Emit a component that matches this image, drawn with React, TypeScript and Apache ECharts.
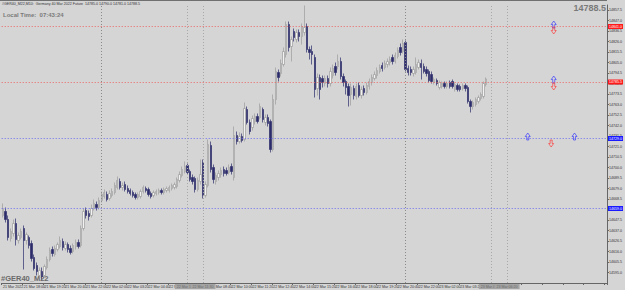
import React, { useEffect, useRef } from "react";
import * as echarts from "echarts";

// [open, close, low, high]
const candles: number[][] = [
  [14652, 14659, 14650, 14664], [14656, 14648, 14645, 14660], [14648, 14630, 14627, 14652], [14629, 14636, 14626, 14639],
  [14634, 14644, 14631, 14648], [14644, 14628, 14622, 14649], [14627, 14632, 14624, 14635], [14630, 14636, 14628, 14639],
  [14639, 14627, 14598, 14642], [14627, 14633, 14623, 14635], [14630, 14622, 14619, 14632], [14624, 14609, 14606, 14627],
  [14610, 14599, 14597, 14613], [14602, 14596, 14592, 14605], [14592, 14597, 14589, 14600], [14596, 14591, 14588, 14600],
  [14592, 14601, 14590, 14603], [14600, 14608, 14598, 14611], [14608, 14617, 14606, 14620], [14618, 14614, 14611, 14621],
  [14613, 14619, 14611, 14622], [14618, 14623, 14616, 14625], [14621, 14627, 14619, 14631], [14626, 14620, 14617, 14629],
  [14619, 14623, 14617, 14626], [14623, 14618, 14615, 14625], [14619, 14615, 14613, 14622], [14616, 14622, 14614, 14624],
  [14621, 14625, 14618, 14628], [14625, 14621, 14619, 14628], [14622, 14639, 14620, 14642], [14639, 14656, 14637, 14659],
  [14657, 14652, 14649, 14660], [14654, 14651, 14647, 14657], [14652, 14659, 14650, 14663], [14659, 14664, 14657, 14668],
  [14663, 14660, 14657, 14666], [14660, 14667, 14658, 14670], [14667, 14673, 14665, 14676], [14671, 14675, 14669, 14678],
  [14673, 14668, 14666, 14676], [14669, 14674, 14667, 14677], [14672, 14676, 14670, 14679], [14675, 14682, 14673, 14685],
  [14680, 14687, 14678, 14691], [14686, 14680, 14678, 14689], [14680, 14682, 14677, 14685], [14683, 14678, 14676, 14686],
  [14679, 14676, 14674, 14682], [14677, 14674, 14672, 14679], [14675, 14672, 14670, 14677], [14673, 14670, 14668, 14675],
  [14670, 14673, 14668, 14675], [14671, 14676, 14669, 14678], [14676, 14680, 14674, 14682], [14679, 14677, 14675, 14681],
  [14678, 14673, 14671, 14680], [14674, 14671, 14669, 14676], [14672, 14675, 14670, 14677], [14674, 14676, 14672, 14678],
  [14675, 14677, 14673, 14679], [14677, 14675, 14673, 14679], [14675, 14678, 14673, 14680], [14677, 14679, 14675, 14681],
  [14677, 14680, 14675, 14682], [14679, 14682, 14677, 14684], [14680, 14683, 14678, 14685], [14681, 14688, 14679, 14690],
  [14687, 14693, 14685, 14696], [14692, 14698, 14690, 14701], [14696, 14701, 14694, 14706], [14702, 14695, 14693, 14704],
  [14696, 14688, 14686, 14698], [14690, 14686, 14683, 14693], [14689, 14678, 14675, 14691], [14678, 14687, 14676, 14690],
  [14686, 14693, 14683, 14708], [14705, 14672, 14669, 14708], [14672, 14683, 14670, 14686], [14682, 14723, 14680, 14728],
  [14722, 14698, 14695, 14726], [14700, 14688, 14684, 14703], [14686, 14692, 14683, 14695], [14690, 14694, 14687, 14697],
  [14693, 14697, 14690, 14700], [14698, 14694, 14691, 14701], [14697, 14694, 14692, 14700], [14695, 14700, 14693, 14703],
  [14701, 14696, 14693, 14704], [14690, 14732, 14687, 14741], [14732, 14726, 14723, 14736], [14726, 14731, 14724, 14735],
  [14731, 14727, 14725, 14734], [14728, 14759, 14726, 14765], [14758, 14745, 14743, 14761], [14745, 14736, 14733, 14748],
  [14740, 14749, 14737, 14752], [14746, 14751, 14743, 14754], [14751, 14746, 14744, 14754], [14750, 14761, 14748, 14764],
  [14758, 14748, 14745, 14760], [14745, 14750, 14742, 14753], [14750, 14744, 14741, 14753], [14746, 14718, 14715, 14748],
  [14718, 14768, 14716, 14773], [14768, 14796, 14763, 14800], [14795, 14790, 14786, 14798], [14794, 14804, 14791, 14808],
  [14803, 14816, 14801, 14820], [14813, 14843, 14810, 14846], [14843, 14820, 14816, 14846], [14821, 14828, 14806, 14831],
  [14836, 14830, 14826, 14839], [14828, 14835, 14825, 14838], [14835, 14831, 14826, 14838], [14831, 14841, 14823, 14844],
  [14835, 14840, 14832, 14862], [14841, 14818, 14815, 14844], [14818, 14815, 14808, 14821], [14816, 14813, 14803, 14822],
  [14810, 14778, 14770, 14813], [14779, 14790, 14772, 14794], [14790, 14778, 14768, 14793], [14789, 14785, 14780, 14792],
  [14784, 14789, 14781, 14792], [14789, 14784, 14780, 14792], [14784, 14796, 14781, 14800], [14792, 14799, 14789, 14803],
  [14801, 14795, 14792, 14805], [14801, 14806, 14798, 14813], [14806, 14791, 14788, 14810], [14791, 14785, 14781, 14794],
  [14786, 14780, 14773, 14788], [14781, 14772, 14761, 14784], [14773, 14780, 14762, 14784], [14779, 14772, 14768, 14782],
  [14771, 14781, 14768, 14784], [14782, 14772, 14770, 14785], [14772, 14778, 14769, 14781], [14779, 14775, 14772, 14782],
  [14775, 14782, 14773, 14785], [14781, 14786, 14778, 14789], [14785, 14790, 14782, 14793], [14789, 14793, 14787, 14796],
  [14792, 14797, 14789, 14800], [14796, 14800, 14794, 14803], [14802, 14799, 14796, 14805], [14800, 14804, 14798, 14807],
  [14803, 14806, 14800, 14809], [14805, 14808, 14802, 14811], [14810, 14806, 14803, 14813], [14806, 14812, 14804, 14815],
  [14811, 14817, 14809, 14820], [14820, 14815, 14812, 14824], [14816, 14824, 14814, 14828], [14825, 14798, 14796, 14827],
  [14799, 14795, 14792, 14802], [14798, 14795, 14792, 14801], [14794, 14798, 14791, 14801], [14795, 14803, 14793, 14810],
  [14800, 14805, 14798, 14808], [14804, 14800, 14788, 14808], [14801, 14796, 14794, 14804], [14798, 14794, 14791, 14801],
  [14796, 14787, 14785, 14798], [14793, 14786, 14784, 14796], [14785, 14788, 14783, 14790], [14787, 14784, 14782, 14789],
  [14780, 14785, 14778, 14787], [14781, 14784, 14779, 14786], [14784, 14781, 14779, 14786], [14781, 14784, 14779, 14786],
  [14785, 14781, 14779, 14787], [14786, 14781, 14779, 14788], [14778, 14783, 14776, 14785], [14782, 14778, 14776, 14784],
  [14781, 14778, 14776, 14783], [14779, 14782, 14777, 14784], [14782, 14779, 14776, 14784], [14780, 14766, 14764, 14782],
  [14766, 14761, 14755, 14768], [14761, 14765, 14758, 14767], [14763, 14768, 14761, 14770], [14766, 14770, 14764, 14772],
  [14769, 14773, 14767, 14775], [14771, 14784, 14769, 14786], [14783, 14788.5, 14781, 14790],
];

const SLOT_COUNT = 233; // bar slots across the plot, including the empty right shift
const BARS_PER_LABEL = 8;
const timeLabels = [
  "21 Mar 2022", "21 Mar 18:00", "21 Mar 19:20", "21 Mar 20:40", "21 Mar 22:00", "22 Mar 02:00",
  "22 Mar 03:20", "22 Mar 04:40", "22 Mar 06:00", "22 Mar 07:20", "22 Mar 08:40", "22 Mar 10:00",
  "22 Mar 11:20", "22 Mar 12:40", "22 Mar 14:00", "22 Mar 15:20", "22 Mar 16:40", "22 Mar 18:00",
  "22 Mar 19:20", "22 Mar 20:40", "22 Mar 22:00", "23 Mar 02:00", "23 Mar 03:20", "23 Mar 04:40",
];

const levelRed = [14841, 14785.5];
const levelBlue = [14729, 14659];
const bidPrice = 14788.5;
const separatorIdx = [38, 155];
const vlineIdx = [71, 77, 188, 194];
const vlineTimes = ["22 Mar 10:40", "22 Mar 11:30", "23 Mar 05:20", "23 Mar 06:20"];
const upArrows = [[212, 14843], [212, 14788], [202, 14731], [220, 14731]];
const downArrows = [[212, 14837], [212, 14781], [211, 14724]];

const yMin = 14584.5;
const yMax = 14862.5;
const yStep = 10.5;

const ARROW = "path://M5,0 L10,5 L7,5 L7,10 L3,10 L3,5 L0,5 Z";

export default function App() {
  const ref = useRef<HTMLDivElement>(null);
  useEffect(() => {
    if (!ref.current) return;
    const chart = echarts.init(ref.current, undefined, { renderer: "svg" });
    const cats = Array.from({ length: SLOT_COUNT }, (_, i) => String(i));
    const font = "Liberation Sans";
    const tiny = 3.6;
    const hLine = (v: number, color: string, boxColor: string) => ({
      yAxis: v,
      lineStyle: { color, type: [1, 2], width: 1 },
      label: {
        show: true, position: "end", formatter: v.toFixed(1), backgroundColor: boxColor,
        color: "#ffffff", fontSize: tiny, padding: [1, 1, 0, 1], distance: 1, fontFamily: font,
      },
    });
    const markData: any[] = [
      ...levelRed.map((v) => hLine(v, "#ee6464", "#ff1a1a")),
      ...levelBlue.map((v) => hLine(v, "#6a6af0", "#1a1aff")),
      {
        yAxis: bidPrice,
        lineStyle: { opacity: 0 },
        label: {
          show: true, position: "end", formatter: bidPrice.toFixed(1), backgroundColor: "#000000",
          color: "#ffffff", fontSize: tiny, padding: [1, 1, 0, 1], distance: 1, fontFamily: font,
        },
      },
      ...separatorIdx.map((i) => ({
        xAxis: String(i),
        lineStyle: { color: "#8a8a8a", type: [1, 2], width: 1 },
        label: { show: false },
      })),
      ...vlineIdx.map((i, k) => ({
        xAxis: String(i),
        lineStyle: { color: "#a8a8a8", type: [1, 2], width: 1 },
        label: {
          show: true, position: "start", formatter: vlineTimes[k], backgroundColor: "#a4a4a4",
          color: "#6a6a6a", fontSize: tiny, padding: [1, 2, 0, 2], distance: 1, fontFamily: font,
        },
      })),
    ];
    chart.setOption({
      animation: false,
      backgroundColor: "#d5d5d5",
      grid: { left: 0, right: 18, top: 5, bottom: 7, containLabel: false },
      xAxis: {
        type: "category",
        data: cats,
        boundaryGap: true,
        axisLine: { show: true, lineStyle: { color: "#666", width: 1 } },
        axisTick: { show: true, interval: BARS_PER_LABEL - 1, length: 2, lineStyle: { color: "#666" } },
        axisLabel: {
          interval: BARS_PER_LABEL - 1,
          fontSize: tiny,
          color: "#333",
          margin: 2,
          align: "left",
          fontFamily: font,
          formatter: (_v: string, idx: number) => timeLabels[idx / BARS_PER_LABEL] ?? "",
        },
        splitLine: { show: false },
      },
      yAxis: {
        type: "value",
        position: "right",
        min: yMin,
        max: yMax,
        interval: yStep,
        scale: true,
        axisLine: { show: true, lineStyle: { color: "#666", width: 1 } },
        axisTick: { show: true, length: 2, lineStyle: { color: "#666" } },
        axisLabel: {
          fontSize: tiny, color: "#333", margin: 2, fontFamily: font,
          showMinLabel: false, showMaxLabel: false,
          formatter: (v: number) => v.toFixed(1),
        },
        splitLine: { show: false },
      },
      graphic: [
        { type: "line", shape: { x1: 0, y1: 0.5, x2: 607, y2: 0.5 }, style: { stroke: "#707070", lineWidth: 1 } },
        {
          type: "text", left: 2, top: 1.5,
          style: { text: "#GER40_M22,M10:  Germany 40 Mar 2022 Future  14785.0 14790.0 14781.0 14788.5", fontSize: tiny, fill: "#333", fontFamily: font },
        },
        {
          type: "text", left: 3, top: 12,
          style: { text: "Local Time:  07:43:24", fontSize: 6, fontWeight: "bold", fill: "#7a7a7a", fontFamily: font },
        },
        {
          type: "text", right: 19, top: 3,
          style: { text: "14788.5", fontSize: 9, fontWeight: "bold", fill: "#7a7a7a", fontFamily: font },
        },
        {
          type: "text", left: 1, top: 274,
          style: { text: "#GER40_M22", fontSize: 7.5, fontWeight: "bold", fill: "#6a6a6a", fontFamily: font },
        },
      ],
      series: [
        {
          type: "candlestick",
          data: candles,
          barWidth: "72%",
          itemStyle: {
            color: "#f2f2f2",
            color0: "#2c2c6c",
            borderColor: "#9c9c9c",
            borderColor0: "#2c2c6c",
            borderWidth: 0.7,
          },
          markLine: { silent: true, symbol: "none", animation: false, data: markData },
        },
        {
          type: "scatter",
          data: upArrows,
          symbol: ARROW,
          symbolSize: [5, 7],
          itemStyle: { color: "rgba(0,0,0,0)", borderColor: "#3030ff", borderWidth: 0.8 },
          silent: true,
        },
        {
          type: "scatter",
          data: downArrows,
          symbol: ARROW,
          symbolRotate: 180,
          symbolSize: [5, 7],
          itemStyle: { color: "rgba(0,0,0,0)", borderColor: "#ff3030", borderWidth: 0.8 },
          silent: true,
        },
      ],
    });
    return () => chart.dispose();
  }, []);
  return (
    <div
      ref={ref}
      style={{ position: "fixed", left: 0, top: 0, width: 625, height: 290 }}
    />
  );
}
